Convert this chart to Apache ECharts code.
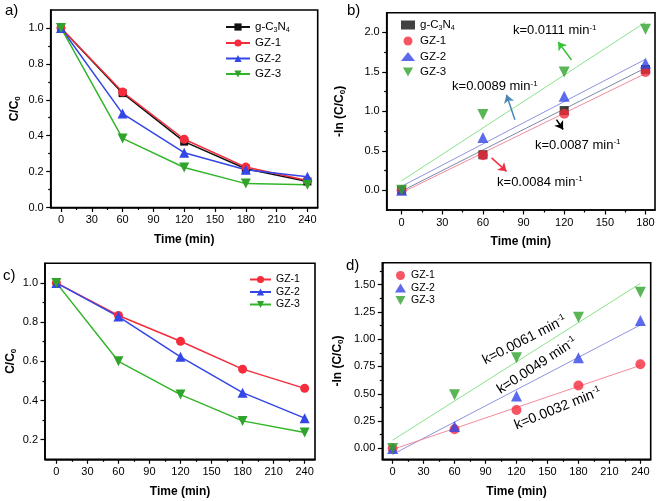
<!DOCTYPE html>
<html><head><meta charset="utf-8">
<script src="https://cdn.jsdelivr.net/npm/echarts@6/dist/echarts.min.js"></script>
<style>html,body{margin:0;padding:0;background:#fff}#c{width:661px;height:501px}</style>
</head><body><div id="c"></div>
<script>
// ---------- data ----------
const timeA = [0, 60, 120, 180, 240];
const aCN  = [1.0, 0.637, 0.367, 0.216, 0.145];
const aGZ1 = [1.0, 0.643, 0.380, 0.225, 0.150];
const aGZ2 = [1.0, 0.523, 0.305, 0.210, 0.171];
const aGZ3 = [1.0, 0.385, 0.223, 0.133, 0.127];

const timeB = [0, 60, 120, 180];
const bCN  = [0, 0.45, 1.01, 1.53];
const bGZ1 = [0, 0.445, 0.97, 1.50];
const bGZ2 = [0, 0.67, 1.19, 1.61];
const bGZ3 = [0, 0.96, 1.50, 2.04];
const fitBX   = [0, 180];
const fitBCN  = [-0.01, 1.55];
const fitBGZ1 = [-0.03, 1.48];
const fitBGZ2 = [0.05, 1.66];
const fitBGZ3 = [0.12, 2.13];

const timeC = [0, 60, 120, 180, 240];
const cGZ1 = [1.0, 0.834, 0.702, 0.560, 0.462];
const cGZ2 = [1.0, 0.828, 0.623, 0.440, 0.310];
const cGZ3 = [1.0, 0.600, 0.430, 0.296, 0.237];

const timeD = [0, 60, 120, 180, 240];
const dGZ1 = [0, 0.175, 0.352, 0.575, 0.77];
const dGZ2 = [0, 0.20, 0.48, 0.83, 1.17];
const dGZ3 = [0, 0.49, 0.83, 1.20, 1.43];
const fitDX   = [0, 240];
const fitDGZ1 = [-0.01, 0.76];
const fitDGZ2 = [-0.055, 1.13];
const fitDGZ3 = [0.075, 1.51];

const kB = ['0.0111', '0.0089', '0.0087', '0.0084'];
const kD = ['0.0061', '0.0049', '0.0032'];

const xTicks240 = [0, 30, 60, 90, 120, 150, 180, 210, 240];
const xMinor240 = [15, 45, 75, 105, 135, 165, 195, 225];
const xTicks180 = [0, 30, 60, 90, 120, 150, 180];
const xMinor180 = [15, 45, 75, 105, 135, 165];
const yTicksA = [0, 0.2, 0.4, 0.6, 0.8, 1.0];
const yMinorA = [0.1, 0.3, 0.5, 0.7, 0.9];
const yTicksB = [0, 0.5, 1.0, 1.5, 2.0];
const yMinorB = [0.25, 0.75, 1.25, 1.75];
const yTicksC = [0.2, 0.4, 0.6, 0.8, 1.0];
const yMinorC = [0.3, 0.5, 0.7, 0.9];
const yTicksD = [0, 0.25, 0.5, 0.75, 1.0, 1.25, 1.5];
const yMinorD = [0.125, 0.375, 0.625, 0.875, 1.125, 1.375, 1.625];

// ---------- helpers ----------
const F = "'Liberation Sans', Arial, sans-serif";
const pts = (xs, ys) => xs.map((x, i) => [x, ys[i]]);
const COL = { black: '#111111', red: '#f42c3c', blue: '#3346e6', green: '#2fa32a', greenL: '#33b52b' };
const DOWN = 'path://M0,0L10,0L5,9Z';

const nameRich = {
  b: { fontSize: 12, fontWeight: 'bold', fontFamily: F, color: '#000', lineHeight: 14 },
  s: { fontSize: 8, fontWeight: 'bold', fontFamily: F, color: '#000', lineHeight: 8, verticalAlign: 'bottom' }
};

function xAxes(gi, min, max, major, minor) {
  const tickStyle = { color: '#000', width: 1.2 };
  return [
    { type: 'value', gridIndex: gi, position: 'bottom', min, max,
      name: 'Time (min)', nameLocation: 'middle', nameGap: 26,
      nameTextStyle: { fontWeight: 'bold', fontSize: 12, color: '#000', fontFamily: F },
      axisLine: { show: true, onZero: false, lineStyle: { color: '#000', width: 1.6 } },
      axisTick: { show: true, inside: false, length: 4.5, customValues: major, lineStyle: tickStyle },
      axisLabel: { show: true, customValues: major, margin: 7, fontSize: 11, color: '#000', fontFamily: F },
      splitLine: { show: false } },
    { type: 'value', gridIndex: gi, position: 'bottom', min, max,
      axisLine: { show: false, onZero: false },
      axisTick: { show: true, inside: false, length: 2.5, customValues: minor, lineStyle: tickStyle },
      axisLabel: { show: false }, splitLine: { show: false } }
  ];
}
function yAxes(gi, min, max, major, minor, dec, name, gap) {
  const tickStyle = { color: '#000', width: 1.2 };
  return [
    { type: 'value', gridIndex: gi, position: 'left', min, max,
      name, nameLocation: 'middle', nameGap: gap,
      nameTextStyle: { rich: nameRich },
      axisLine: { show: true, onZero: false, lineStyle: { color: '#000', width: 1.6 } },
      axisTick: { show: true, inside: false, length: 4.5, customValues: major, lineStyle: tickStyle },
      axisLabel: { show: true, customValues: major, margin: 7, fontSize: 11, color: '#000', fontFamily: F,
                   formatter: v => Number(v).toFixed(dec) },
      splitLine: { show: false } },
    { type: 'value', gridIndex: gi, position: 'left', min, max,
      axisLine: { show: false, onZero: false },
      axisTick: { show: true, inside: false, length: 2.5, customValues: minor, lineStyle: tickStyle },
      axisLabel: { show: false }, splitLine: { show: false } }
  ];
}

const legendLabels = {
  a_cn: '{t|g-C}{s|3}{t|N}{s|4}', a_gz1: '{t|GZ-1}', a_gz2: '{t|GZ-2}', a_gz3: '{t|GZ-3}',
  b_cn: '{t|g-C}{s|3}{t|N}{s|4}', b_gz1: '{t|GZ-1}', b_gz2: '{t|GZ-2}', b_gz3: '{t|GZ-3}',
  c_gz1: '{t|GZ-1}', c_gz2: '{t|GZ-2}', c_gz3: '{t|GZ-3}',
  d_gz1: '{t|GZ-1}', d_gz2: '{t|GZ-2}', d_gz3: '{t|GZ-3}'
};
function legendRich(fs) {
  return {
    t: { fontSize: fs, fontFamily: F, color: '#000', lineHeight: 13 },
    s: { fontSize: fs * 0.62, fontFamily: F, color: '#000', lineHeight: 7, verticalAlign: 'bottom' }
  };
}
function legend(data, left, top, iw, ih, gap, fs) {
  return { data, left, top, orient: 'vertical', itemWidth: iw, itemHeight: ih, itemGap: gap,
           selectedMode: false, padding: 0,
           formatter: n => legendLabels[n], textStyle: { rich: legendRich(fs) } };
}

function lineSeries(name, gi, data, color, symbol, size, lineColor) {
  return { type: 'line', name, xAxisIndex: gi * 2, yAxisIndex: gi * 2, data, symbol, symbolSize: size,
           lineStyle: { color: lineColor || color, width: 1.5 }, itemStyle: { color },
           animation: false, z: 3 };
}
function scatterSeries(name, gi, data, color, symbol, size) {
  return { type: 'scatter', name, xAxisIndex: gi * 2, yAxisIndex: gi * 2, data, symbol, symbolSize: size,
           itemStyle: { color }, animation: false, z: 3 };
}
const kRich = fs => ({
  t: { fontSize: fs, fontFamily: F, color: '#000', lineHeight: fs + 2 },
  p: { fontSize: fs * 0.62, fontFamily: F, color: '#000', lineHeight: 6, verticalAlign: 'top' }
});
function fitSeries(gi, xs, ys, color, arrow, arrowColor, label, labelPos, rot, fs) {
  const s = { type: 'line', xAxisIndex: gi * 2, yAxisIndex: gi * 2, data: pts(xs, ys), symbol: 'none',
              lineStyle: { color, width: 1 }, silent: true, animation: false, z: 2 };
  if (arrow) {
    s.markLine = { silent: true, symbol: ['none', 'arrow'], symbolSize: 8, animation: false,
                   label: { show: false }, lineStyle: { color: arrowColor, width: 1.5, type: 'solid' },
                   itemStyle: { color: arrowColor },
                   data: [[{ coord: arrow[0] }, { coord: arrow[1] }]] };
  }
  s.markPoint = { symbol: 'circle', symbolSize: 1, animation: false, silent: true,
                  itemStyle: { color: 'rgba(0,0,0,0)' },
                  label: { show: true, position: 'inside', rotate: rot || 0,
                           formatter: '{t|k=' + label + ' min}{p|-1}', rich: kRich(fs) },
                  data: [{ coord: labelPos }] };
  return s;
}

const option = {
  backgroundColor: '#fff',
  animation: false,
  grid: [
    { left: 50.7, top: 10, width: 267, height: 197.5 },
    { left: 386.7, top: 12.7, width: 268.3, height: 197.3 },
    { left: 45, top: 263.3, width: 270, height: 196 },
    { left: 382.3, top: 262.7, width: 268.4, height: 196.6 }
  ].map(g => Object.assign(g, { show: true, borderColor: '#000', borderWidth: 1.6, backgroundColor: 'transparent' })),
  xAxis: [
    ...xAxes(0, -10, 250, xTicks240, xMinor240),
    ...xAxes(1, -11, 187, xTicks180, xMinor180),
    ...xAxes(2, -11, 250, xTicks240, xMinor240),
    ...xAxes(3, -10, 250, xTicks240, xMinor240)
  ],
  yAxis: [
    ...yAxes(0, 0, 1.1, yTicksA, yMinorA, 1, '{b|C/C}{s|0}', 29),
    ...yAxes(1, -0.25, 2.25, yTicksB, yMinorB, 1, '{b|-ln (C/C}{s|0}{b|)}', 40),
    ...yAxes(2, 0.1, 1.1, yTicksC, yMinorC, 1, '{b|C/C}{s|0}', 27),
    ...yAxes(3, -0.1, 1.7, yTicksD, yMinorD, 2, '{b|-ln (C/C}{s|0}{b|)}', 38)
  ],
  legend: [
    legend(['a_cn', 'a_gz1', 'a_gz2', 'a_gz3'], 225, 21, 24, 9, 3.5, 11.5),
    legend(['b_cn', 'b_gz1', 'b_gz2', 'b_gz3'], 401, 19, 14, 9, 3.5, 11.5),
    legend(['c_gz1', 'c_gz2', 'c_gz3'], 249, 274, 21, 9, 1.5, 10.5),
    legend(['d_gz1', 'd_gz2', 'd_gz3'], 395, 270, 11, 9, 1.5, 10.5)
  ],
  graphic: [
    { type: 'text', left: 5, top: 3, style: { text: 'a)', font: '15px ' + F, fill: '#000' } },
    { type: 'text', left: 347, top: 3, style: { text: 'b)', font: '15px ' + F, fill: '#000' } },
    { type: 'text', left: 3, top: 268, style: { text: 'c)', font: '15px ' + F, fill: '#000' } },
    { type: 'text', left: 346, top: 258, style: { text: 'd)', font: '15px ' + F, fill: '#000' } }
  ],
  series: [
    // panel a
    lineSeries('a_cn', 0, pts(timeA, aCN), COL.black, 'rect', 8),
    lineSeries('a_gz1', 0, pts(timeA, aGZ1), COL.red, 'circle', 9),
    lineSeries('a_gz2', 0, pts(timeA, aGZ2), COL.blue, 'triangle', 10),
    lineSeries('a_gz3', 0, pts(timeA, aGZ3), COL.green, DOWN, 10, COL.greenL),
    // panel b fits
    fitSeries(1, fitBX, fitBGZ3, '#8be38b', [[125.4, 1.65], [115.5, 1.88]], '#33c233', kB[0], [113, 2.02], 0, 13),
    fitSeries(1, fitBX, fitBGZ2, '#8f93de', [[83.6, 0.895], [77.4, 1.21]], '#4a86b8', kB[1], [68.8, 1.31], 0, 13),
    fitSeries(1, fitBX, fitBCN, '#8088a8', [[114.3, 0.895], [119.2, 0.77]], '#000000', kB[2], [130, 0.57], 0, 13),
    fitSeries(1, fitBX, fitBGZ1, '#f28c9c', [[66.4, 0.41], [77.4, 0.24]], '#f03040', kB[3], [102, 0.1], 0, 13),
    // panel b points
    scatterSeries('b_cn', 1, pts(timeB, bCN), COL.black, 'rect', 9),
    scatterSeries('b_gz1', 1, pts(timeB, bGZ1), COL.red, 'circle', 10),
    scatterSeries('b_gz2', 1, pts(timeB, bGZ2), COL.blue, 'triangle', 11),
    scatterSeries('b_gz3', 1, pts(timeB, bGZ3), COL.green, DOWN, 11),
    // panel c
    lineSeries('c_gz1', 2, pts(timeC, cGZ1), COL.red, 'circle', 9),
    lineSeries('c_gz2', 2, pts(timeC, cGZ2), COL.blue, 'triangle', 10),
    lineSeries('c_gz3', 2, pts(timeC, cGZ3), COL.green, DOWN, 10, COL.greenL),
    // panel d fits
    fitSeries(3, fitDX, fitDGZ3, '#8be38b', null, null, kD[0], [127.8, 0.99], 27, 14),
    fitSeries(3, fitDX, fitDGZ2, '#8f93de', null, null, kD[1], [139.8, 0.757], 33, 14),
    fitSeries(3, fitDX, fitDGZ1, '#f28c9c', null, null, kD[2], [160, 0.364], 22, 14),
    // panel d points
    scatterSeries('d_gz1', 3, pts(timeD, dGZ1), COL.red, 'circle', 10),
    scatterSeries('d_gz2', 3, pts(timeD, dGZ2), COL.blue, 'triangle', 11),
    scatterSeries('d_gz3', 3, pts(timeD, dGZ3), COL.green, DOWN, 11)
  ]
};

const chart = echarts.init(document.getElementById('c'), null, { renderer: 'canvas' });
chart.setOption(option);
</script>
</body></html>
